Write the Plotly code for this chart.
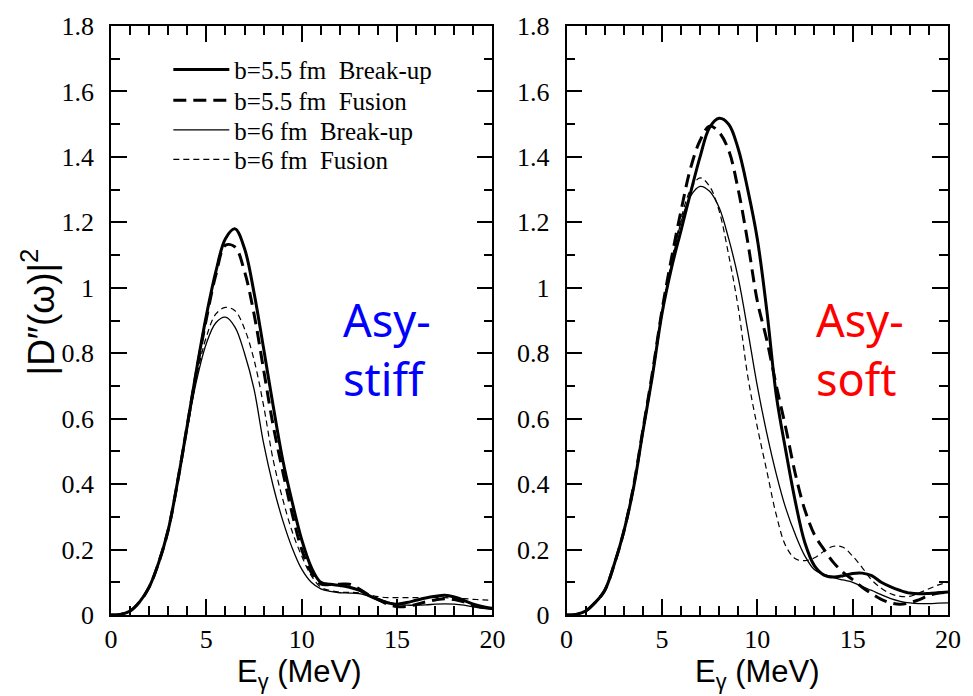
import plotly.graph_objects as go

# ---------------- data ----------------
E = [i * 0.5 for i in range(41)]  # E_gamma (MeV), 0 .. 20

# Left panel: Asy-stiff
stiff_b55_breakup = [0, 0.002, 0.012, 0.04, 0.085, 0.16, 0.26, 0.41, 0.58, 0.755,
                     0.915, 1.05, 1.15, 1.18, 1.12, 0.985, 0.815, 0.64, 0.475, 0.345,
                     0.23, 0.146, 0.1, 0.094, 0.09, 0.085, 0.076, 0.06, 0.047, 0.037,
                     0.033, 0.038, 0.045, 0.052, 0.057, 0.06, 0.055, 0.045, 0.033, 0.025, 0.02]
stiff_b55_fusion = [0, 0.002, 0.012, 0.04, 0.085, 0.16, 0.26, 0.41, 0.58, 0.75,
                    0.905, 1.04, 1.13, 1.125, 1.05, 0.92, 0.75, 0.58, 0.44, 0.31,
                    0.2, 0.13, 0.095, 0.093, 0.094, 0.094, 0.08, 0.062, 0.048, 0.033,
                    0.026, 0.026, 0.032, 0.04, 0.046, 0.05, 0.047, 0.04, 0.03, 0.024, 0.02]
stiff_b6_breakup = [0, 0.002, 0.012, 0.04, 0.085, 0.16, 0.26, 0.405, 0.57, 0.72,
                    0.83, 0.893, 0.91, 0.88, 0.80, 0.69, 0.525, 0.395, 0.29, 0.205,
                    0.14, 0.1, 0.08, 0.072, 0.068, 0.067, 0.065, 0.058, 0.05, 0.04,
                    0.033, 0.03, 0.03, 0.031, 0.033, 0.034, 0.033, 0.03, 0.025, 0.02, 0.017]
stiff_b6_fusion = [0, 0.002, 0.012, 0.04, 0.085, 0.16, 0.26, 0.405, 0.575, 0.73,
                   0.85, 0.92, 0.94, 0.93, 0.875, 0.78, 0.64, 0.475, 0.355, 0.255,
                   0.18, 0.12, 0.085, 0.075, 0.07, 0.069, 0.068, 0.062, 0.056, 0.053,
                   0.053, 0.053, 0.053, 0.053, 0.054, 0.053, 0.051, 0.05, 0.048, 0.046, 0.045]

# Right panel: Asy-soft
soft_b55_breakup = [0, 0.002, 0.012, 0.038, 0.075, 0.155, 0.255, 0.385, 0.56, 0.73,
                    0.92, 1.06, 1.175, 1.29, 1.40, 1.49, 1.518, 1.50, 1.425, 1.30,
                    1.15, 0.93, 0.67, 0.5, 0.345, 0.22, 0.15, 0.122, 0.116, 0.12,
                    0.127, 0.128, 0.12, 0.1, 0.086, 0.075, 0.067, 0.065, 0.066, 0.068, 0.07]
soft_b55_fusion = [0, 0.002, 0.012, 0.038, 0.075, 0.155, 0.255, 0.39, 0.565, 0.74,
                   0.93, 1.09, 1.235, 1.365, 1.45, 1.494, 1.475, 1.42, 1.30, 1.14,
                   0.96, 0.84, 0.70, 0.57, 0.43, 0.32, 0.245, 0.2, 0.16, 0.13,
                   0.108, 0.085, 0.065, 0.048, 0.037, 0.033, 0.038, 0.047, 0.06, 0.067, 0.07]
soft_b6_breakup = [0, 0.002, 0.012, 0.038, 0.075, 0.155, 0.255, 0.385, 0.56, 0.73,
                   0.92, 1.07, 1.2, 1.28, 1.31, 1.295, 1.245, 1.15, 1.03, 0.87,
                   0.7, 0.555, 0.43, 0.325, 0.245, 0.18, 0.138, 0.124, 0.114, 0.107,
                   0.1, 0.087, 0.075, 0.062, 0.05, 0.042, 0.037, 0.035, 0.035, 0.036, 0.037]
soft_b6_fusion = [0, 0.002, 0.012, 0.038, 0.075, 0.15, 0.25, 0.38, 0.555, 0.73,
                  0.925, 1.08, 1.21, 1.30, 1.336, 1.31, 1.235, 1.10, 0.94, 0.73,
                  0.575, 0.44, 0.305, 0.21, 0.172, 0.166, 0.175, 0.195, 0.21, 0.207,
                  0.18, 0.145, 0.107, 0.082, 0.065, 0.057, 0.057, 0.068, 0.08, 0.092, 0.1]

series_names = ["b=5.5 fm  Break-up", "b=5.5 fm  Fusion", "b=6 fm  Break-up", "b=6 fm  Fusion"]
x_ticks = [0, 5, 10, 15, 20]
y_ticks = [0, 0.2, 0.4, 0.6, 0.8, 1, 1.2, 1.4, 1.6, 1.8]

# ---------------- styling ----------------
W, H = 973, 696
ML, MR, MT, MB = 111, 15, 19, 81
PW, PH = W - ML - MR, H - MT - MB


def px_x(p):
    return (p - ML) / PW


def px_y(p):
    return 1 - (p - MT) / PH


styles = [
    dict(color="black", width=3.0, dash="solid"),
    dict(color="black", width=3.0, dash="13px,7px"),
    dict(color="black", width=1.3, dash="solid"),
    dict(color="black", width=1.2, dash="6px,4px"),
]
legend_ids = ["legend", "legend2", "legend3", "legend4"]
legend_rows = [73, 104, 134, 164]  # pixel centres of the legend rows

fig = go.Figure()
left = [stiff_b55_breakup, stiff_b55_fusion, stiff_b6_breakup, stiff_b6_fusion]
right = [soft_b55_breakup, soft_b55_fusion, soft_b6_breakup, soft_b6_fusion]
for i, (name, ys) in enumerate(zip(series_names, left)):
    fig.add_trace(go.Scatter(x=E, y=ys, mode="lines", name=name,
                             line=dict(shape="spline", smoothing=1.0, **styles[i]),
                             xaxis="x", yaxis="y", showlegend=True, legend=legend_ids[i]))
for i, (name, ys) in enumerate(zip(series_names, right)):
    fig.add_trace(go.Scatter(x=E, y=ys, mode="lines", name=name,
                             line=dict(shape="spline", smoothing=1.0, **styles[i]),
                             xaxis="x2", yaxis="y2", showlegend=False))

tickfont = dict(family="Liberation Serif", size=26, color="black")
common = dict(ticks="inside", tickwidth=1.5, tickcolor="black", showline=True, linecolor="black", linewidth=1.5,
              mirror="allticks", showgrid=False, zeroline=False, tickfont=tickfont)
xcommon = dict(range=[0, 20], tickvals=x_ticks, ticklen=16,
               minor=dict(dtick=1, tick0=0, ticks="inside", ticklen=9, tickwidth=1.5, tickcolor="black", showgrid=False),
               **common)
ycommon = dict(range=[0, 1.8], tickvals=y_ticks, ticklen=16, ticklabelstandoff=10,
               minor=dict(dtick=0.1, tick0=0, ticks="inside", ticklen=9, tickwidth=1.5, tickcolor="black", showgrid=False),
               **common)

dom_left = [0, px_x(497)]
dom_right = [px_x(572), 1]

layout = dict(
    width=W, height=H,
    margin=dict(l=ML, r=MR, t=MT, b=MB),
    paper_bgcolor="white", plot_bgcolor="white",
    xaxis=dict(domain=dom_left, anchor="y", **xcommon),
    yaxis=dict(domain=[0, 1], anchor="x", **ycommon),
    xaxis2=dict(domain=dom_right, anchor="y2", **xcommon),
    yaxis2=dict(domain=[0, 1], anchor="x2", **ycommon),
    showlegend=True,
)
for lid, row in zip(legend_ids, legend_rows):
    layout[lid] = dict(x=px_x(169), y=px_y(row - 33), xanchor="left", yanchor="top",
                       bgcolor="rgba(0,0,0,0)", itemwidth=56,
                       font=dict(family="Liberation Serif", size=25, color="black"))
fig.update_layout(**layout)

ann_font_axis = dict(family="Liberation Sans", size=31, color="black")
asy_font_b = dict(family="Noto Sans", size=45, color="#0000FF")
asy_font_r = dict(family="Noto Sans", size=45, color="#FF0000")


def txt(text, xp, yp, font, xanchor="left", angle=0):
    return dict(text=text, x=px_x(xp), y=px_y(yp), xref="paper", yref="paper", showarrow=False,
                xanchor=xanchor, yanchor="middle", textangle=angle, font=font, align="left")


annotations = [
    txt("E<sub>γ</sub> (MeV)", 302, 675, ann_font_axis, "center"),
    txt("E<sub>γ</sub> (MeV)", 765, 675, ann_font_axis, "center"),
    txt("|D″(ω)|<sup>2</sup>", 38, 308, dict(family="Liberation Sans", size=37, color="black"), "center", -90),
    txt("Asy-<br>stiff", 344, 346, asy_font_b),
    txt("Asy-<br>soft", 822, 346, asy_font_r),
]
fig.update_layout(annotations=annotations)

fig.write_html("out.html")
